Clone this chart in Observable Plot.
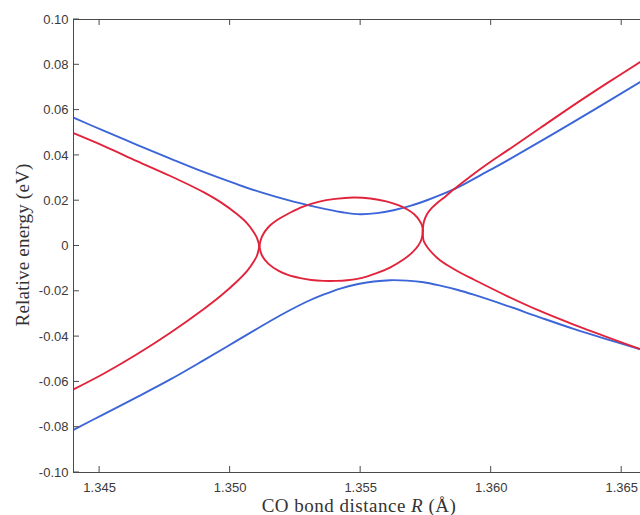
<!DOCTYPE html>
<html><head><meta charset="utf-8">
<script src="https://cdn.jsdelivr.net/npm/d3@7"></script>
<script src="https://cdn.jsdelivr.net/npm/@observablehq/plot@0.6"></script>
<style>body{margin:0;background:#fff}</style>
</head><body><div id="chart"></div>
<script>
// Axis limits and ticks
const xDomain = [1.344, 1.36572];
const yDomain = [-0.10, 0.10];
const xTicks = [1.345, 1.350, 1.355, 1.360, 1.365];
const yTicks = [0.10, 0.08, 0.06, 0.04, 0.02, 0, -0.02, -0.04, -0.06, -0.08, -0.10];

// Blue curves: [R (Å), relative energy (eV)]
const blueUpper = [
  [1.34400, 0.0567], [1.34515, 0.0509], [1.34643, 0.0447], [1.34771, 0.0386],
  [1.34898, 0.0327], [1.35026, 0.0273], [1.35116, 0.0238], [1.35243, 0.0196],
  [1.35371, 0.0162], [1.35435, 0.0148], [1.35499, 0.0140], [1.35563, 0.0145],
  [1.35626, 0.0158], [1.35690, 0.0177], [1.35754, 0.0202], [1.35818, 0.0231],
  [1.35856, 0.0250], [1.35882, 0.0264], [1.35984, 0.0328], [1.36061, 0.0377],
  [1.36316, 0.0548], [1.36572, 0.0725]
];
const blueLower = [
  [1.34400, -0.0812], [1.34515, -0.0743], [1.34643, -0.0667], [1.34771, -0.0589],
  [1.34898, -0.0505], [1.35026, -0.0418], [1.35154, -0.0331], [1.35223, -0.0287],
  [1.35295, -0.0245], [1.35357, -0.0215], [1.35422, -0.0188], [1.35486, -0.0169],
  [1.35550, -0.0157], [1.35614, -0.0151], [1.35678, -0.0153], [1.35741, -0.0160],
  [1.35805, -0.0175], [1.35869, -0.0193], [1.35933, -0.0215], [1.36061, -0.0264],
  [1.36189, -0.0316], [1.36316, -0.0366], [1.36444, -0.0412], [1.36572, -0.0456]
];

// Red curves
const redUpperLeft = [
  [1.34400, 0.0498], [1.34515, 0.0442], [1.34643, 0.0375], [1.34771, 0.0309],
  [1.34898, 0.0238], [1.34962, 0.0195], [1.35026, 0.0141], [1.35066, 0.0099],
  [1.35090, 0.0062], [1.35103, 0.0035], [1.35112, 0.0000]
];
const redLowerLeft = [
  [1.34400, -0.0633], [1.34515, -0.0564], [1.34643, -0.0478], [1.34771, -0.0383],
  [1.34898, -0.0279], [1.34962, -0.0222], [1.35026, -0.0157], [1.35066, -0.0109],
  [1.35090, -0.0070], [1.35103, -0.0042], [1.35112, 0.0000]
];
const redLoopTop = [
  [1.35112, 0.0000], [1.35122, 0.0042], [1.35147, 0.0084], [1.35186, 0.0119],
  [1.35231, 0.0148], [1.35280, 0.0174], [1.35338, 0.0195], [1.35403, 0.0208],
  [1.35472, 0.0214], [1.35537, 0.0210], [1.35598, 0.0197], [1.35644, 0.0180],
  [1.35679, 0.0161], [1.35706, 0.0139], [1.35725, 0.0113], [1.35735, 0.0091],
  [1.35738, 0.0068]
];
const redLoopBottom = [
  [1.35112, 0.0000], [1.35122, -0.0042], [1.35147, -0.0079], [1.35186, -0.0110],
  [1.35224, -0.0129], [1.35269, -0.0142], [1.35311, -0.0150], [1.35357, -0.0154],
  [1.35407, -0.0154], [1.35449, -0.0151], [1.35487, -0.0145], [1.35526, -0.0134],
  [1.35564, -0.0119], [1.35614, -0.0094], [1.35664, -0.0060], [1.35698, -0.0028],
  [1.35721, 0.0002], [1.35734, 0.0033], [1.35738, 0.0068]
];
const redUpperRight = [
  [1.35738, 0.0068], [1.35742, 0.0106], [1.35754, 0.0140], [1.35771, 0.0166],
  [1.35793, 0.0190], [1.35825, 0.0219], [1.35856, 0.0249], [1.35920, 0.0307],
  [1.35984, 0.0361], [1.36061, 0.0421], [1.36189, 0.0522], [1.36316, 0.0622],
  [1.36444, 0.0719], [1.36572, 0.0813]
];
const redLowerRight = [
  [1.35738, 0.0068], [1.35741, 0.0024], [1.35750, 0.0004], [1.35759, -0.0011],
  [1.35780, -0.0038], [1.35805, -0.0064], [1.35831, -0.0084], [1.35882, -0.0118],
  [1.35933, -0.0148], [1.36061, -0.0221], [1.36189, -0.0288], [1.36316, -0.0347],
  [1.36444, -0.0402], [1.36572, -0.0456]
];

const BLUE = "#3c66d8";
const RED = "#e2233c";
const AXIS = "#4a4a4a";

function table(segs) {
  const out = [];
  segs.forEach((s, i) => s.forEach(([R, E]) => out.push({seg: i, R, E})));
  return out;
}
const blueData = table([blueUpper, blueLower]);
const redData = table([redUpperLeft, redLowerLeft, redLoopTop, redLoopBottom, redUpperRight, redLowerRight]);

const fmtY = d => d === 0 ? "0" : d.toFixed(2);
const fmtX = d => d.toFixed(3);

const W = 640, H = 515, ML = 73, MR = 0, MT = 19, MB = 43, TICK = 6;

const chart = Plot.plot({
  width: W, height: H,
  marginLeft: ML, marginRight: MR, marginTop: MT, marginBottom: MB,
  x: {domain: xDomain},
  y: {domain: yDomain},
  style: {fontFamily: "'Liberation Sans', Arial, sans-serif", fontSize: "13px", color: "#3a3a3a", background: "#fff", overflow: "visible"},
  marks: [
    Plot.line(blueData, {x: "R", y: "E", z: "seg", stroke: BLUE, strokeWidth: 1.9, curve: "catmull-rom", clip: true}),
    Plot.line(redData, {x: "R", y: "E", z: "seg", stroke: RED, strokeWidth: 1.9, curve: "catmull-rom", clip: true}),
    Plot.ruleY([yDomain[0], yDomain[1]], {stroke: AXIS}),
    Plot.ruleX([xDomain[0]], {stroke: AXIS}),
    Plot.axisY(yTicks, {anchor: "left", tickSize: 0, tickPadding: 5, tickFormat: fmtY, label: null}),
    Plot.axisX(xTicks, {anchor: "bottom", tickSize: 0, tickPadding: 10, tickFormat: fmtX, label: null})
  ]
});

document.getElementById("chart").appendChild(chart);

const svg = d3.select(chart);
const sx = chart.scale("x"), sy = chart.scale("y");
const x0 = sx.apply(xDomain[0]);
const yTop = sy.apply(yDomain[1]), yBot = sy.apply(yDomain[0]);
const tg = svg.append("g").attr("stroke", AXIS).attr("stroke-width", 1).attr("fill", "none");
// inward tick marks (left, top, bottom)
yTicks.forEach(v => { const y = sy.apply(v); tg.append("line").attr("x1", x0).attr("x2", x0 + TICK).attr("y1", y).attr("y2", y); });
xTicks.forEach(v => {
  const x = sx.apply(v);
  tg.append("line").attr("x1", x).attr("x2", x).attr("y1", yTop).attr("y2", yTop + TICK);
  tg.append("line").attr("x1", x).attr("x2", x).attr("y1", yBot).attr("y2", yBot - TICK);
});

const xl = svg.append("text")
  .attr("x", 359).attr("y", 512)
  .attr("text-anchor", "middle")
  .style("font-family", "'Liberation Serif', 'Times New Roman', serif")
  .style("font-size", "19px")
  .style("letter-spacing", "0.5px")
  .attr("fill", "#333");
xl.append("tspan").text("CO bond distance ");
xl.append("tspan").style("font-style", "italic").text("R");
xl.append("tspan").text(" (Å)");

svg.append("text")
  .attr("transform", "translate(29,245) rotate(-90)")
  .attr("text-anchor", "middle")
  .style("font-family", "'Liberation Serif', 'Times New Roman', serif")
  .style("font-size", "19px")
  .style("letter-spacing", "0.2px")
  .attr("fill", "#333")
  .text("Relative energy (eV)");
</script>
</body></html>
